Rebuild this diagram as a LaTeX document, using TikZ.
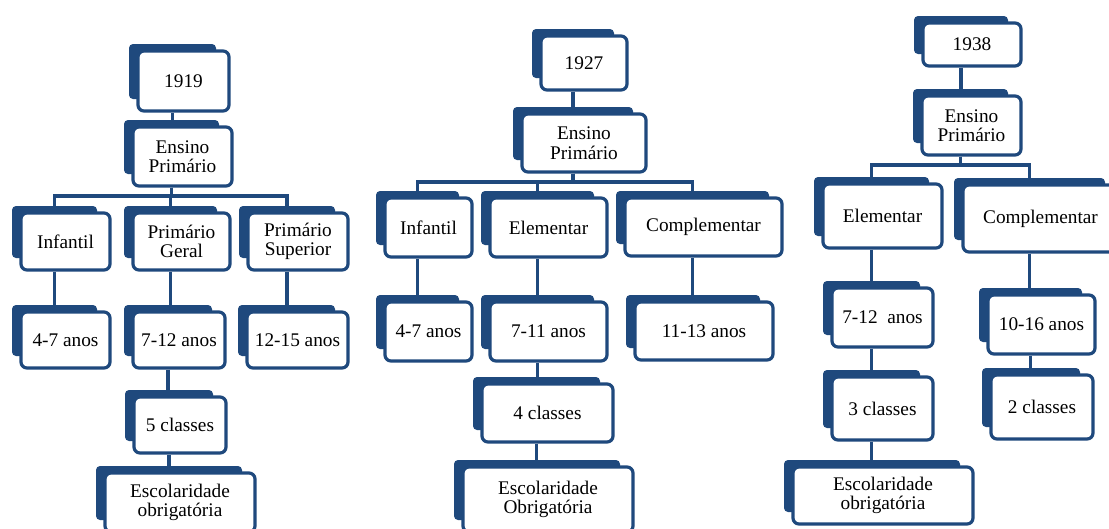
\documentclass[tikz,border=0pt]{standalone}
\usepackage{fontspec}
\setmainfont{Liberation Serif}
\usetikzlibrary{calc}
\definecolor{bblue}{RGB}{31,73,125}
\newcommand\boxfont{\fontsize{19.3}{19.5}\selectfont}
\tikzset{
  frontbox/.style={draw=bblue, line width=3.2pt, fill=white, rounded corners=6pt,
    align=center, inner sep=0pt, font=\boxfont, text=black},
  backbox/.style={fill=bblue, rounded corners=4pt},
  conn/.style={draw=bblue, line width=3.8pt}
}
\newcommand\mkbox[6]{%
  \fill[backbox] (#2-9,#3-7) rectangle (#4-13,#5-12);
  \node[frontbox, minimum width={(#4-#2)*1pt}, minimum height={(#5-#3)*1pt}]
    (#1) at ({(#2+#4)/2},{(#3+#5)/2}) {#6};
}
\begin{document}
\begin{tikzpicture}[x=1pt,y=-1pt]
\useasboundingbox (0,0) rectangle (1109,528);
\clip (0,0) rectangle (1109,528);
\fill[white] (0,0) rectangle (1109,528);
% column 1919
\mkbox{ya}{138}{51}{229}{111}{1919}
\mkbox{ea}{133}{127}{232}{186}{Ensino\\Primário}
\mkbox{a1}{21}{213}{110}{270}{Infantil}
\mkbox{b1}{133}{213}{230}{270}{Primário\\Geral}
\mkbox{c1}{248}{213}{348}{270}{Primário\\Superior}
\mkbox{a2}{21}{312}{110}{368}{4-7 anos}
\mkbox{b2}{133}{312}{225}{368}{7-12 anos}
\mkbox{c2}{247}{312}{348}{368}{12-15 anos}
\mkbox{b3}{134}{397}{226}{453}{5 classes}
\mkbox{b4}{105}{473}{255}{532}{Escolaridade\\obrigatória}
% column 1927
\mkbox{yb}{541}{36}{627}{90}{1927}
\mkbox{eb}{522}{114}{646}{172}{Ensino\\Primário}
\mkbox{d1}{385}{198}{472}{257}{Infantil}
\mkbox{f1}{490}{198}{607}{257}{Elementar}
\mkbox{g1}{625}{198}{782}{256}{Complementar}
\mkbox{d2}{385}{302}{472}{361}{4-7 anos}
\mkbox{f2}{490}{302}{607}{361}{7-11 anos}
\mkbox{g2}{635}{302}{773}{360}{11-13 anos}
\mkbox{f3}{482}{384}{613}{442}{4 classes}
\mkbox{f4}{463}{467}{633}{532}{Escolaridade\\Obrigatória}
% column 1938
\mkbox{yc}{923}{23}{1021}{66}{1938}
\mkbox{ec}{922}{96}{1021}{155}{Ensino\\Primário}
\mkbox{h1}{823}{184}{942}{248}{Elementar}
\mkbox{k1}{963}{185}{1118}{252}{Complementar}
\mkbox{h2}{832}{288}{933}{347}{7-12\ \ anos}
\mkbox{k2}{988}{295}{1095}{354}{10-16 anos}
\mkbox{h3}{832}{377}{933}{440}{3 classes}
\mkbox{k3}{991}{375}{1093}{439}{2 classes}
\mkbox{h4}{793}{467}{973}{524}{Escolaridade\\obrigatória}
% straight connectors
\foreach \p/\c in {ya/ea, b2/b3, b3/b4, yb/eb, f2/f3, f3/f4, yc/ec, h2/h3, h3/h4, k2/k3,
                   a1/a2, b1/b2, c1/c2, d1/d2, f1/f2, g1/g2, h1/h2, k1/k2}{
  \draw[conn] ($(\p.south)+(-11,0)$) coordinate (t) -- (t |- \c.north);
}
% tree connectors
\foreach \p/\c in {ea/a1, ea/b1, ea/c1, eb/d1, eb/f1, eb/g1, ec/h1, ec/k1}{
  \draw[conn] ($(\p.south)+(-11,0)$) -- ++(0,8) -| ($(\c.north)+(-11,0)$);
}
\end{tikzpicture}
\end{document}
